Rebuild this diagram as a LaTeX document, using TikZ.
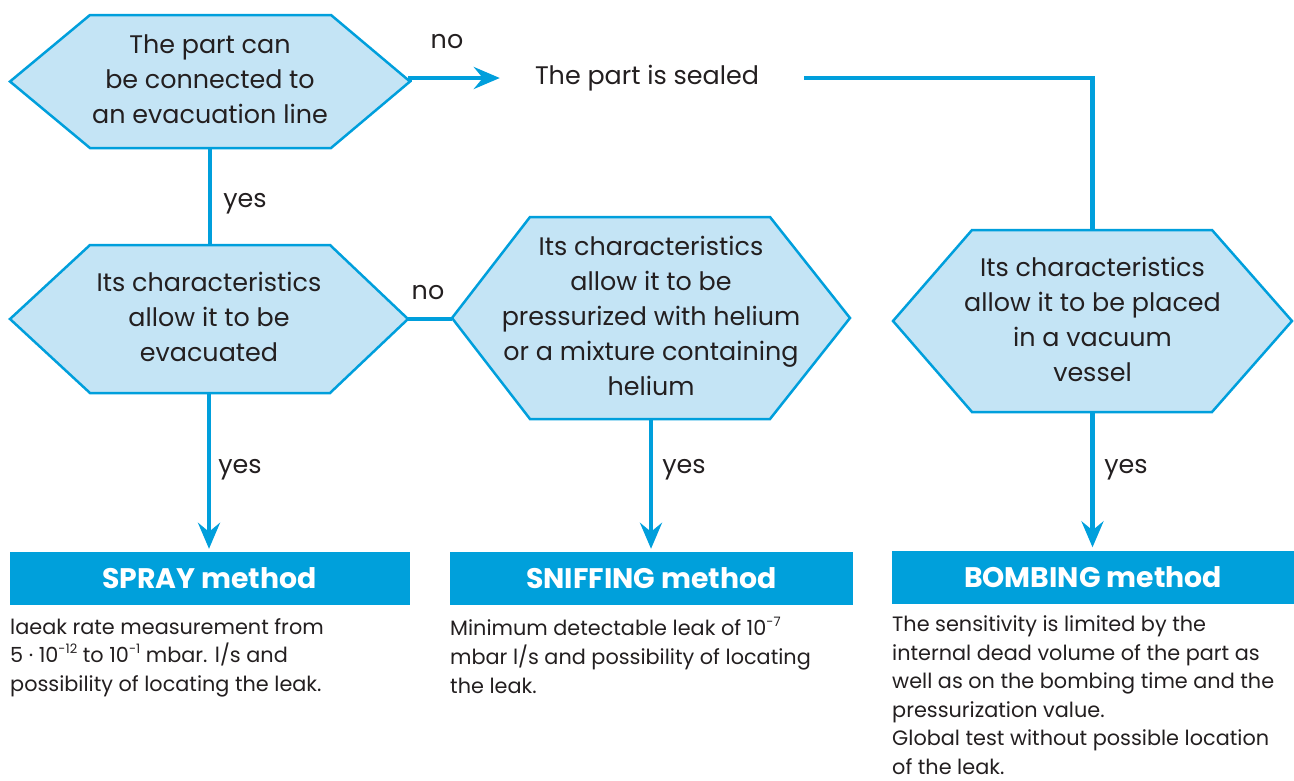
\documentclass[tikz,border=0pt]{standalone}
\usepackage{fontspec}
\setmainfont{Poppins}
\usetikzlibrary{arrows.meta}
\definecolor{hexfill}{HTML}{C4E4F5}
\definecolor{lineblue}{HTML}{009FDC}
\definecolor{boxblue}{HTML}{00A0DB}
\definecolor{txt}{HTML}{231F20}
\newcommand\supx[1]{\raisebox{0.45em}{\fontsize{13}{13}\selectfont #1}}
\newcommand\hexnode[8]{%
  \coordinate (#1-l) at (#2,{(#6+#7)/2});
  \coordinate (#1-r) at (#5,{(#6+#7)/2});
  \coordinate (#1-t) at ({(#2+#5)/2},#6);
  \coordinate (#1-b) at ({(#2+#5)/2},#7);
  \draw[hexshape] (#1-l) -- (#3,#6) -- (#4,#6) -- (#1-r) -- (#4,#7) -- (#3,#7) -- cycle;
  \node[hextext] (#1) at ({(#2+#5)/2},{(#6+#7)/2-2}) {#8};
}
\begin{document}
\begin{tikzpicture}[x=1pt,y=-1pt,
  hexshape/.style={draw=lineblue, line width=2.5pt, fill=hexfill, line join=miter},
  hextext/.style={align=center, text=txt, inner sep=0pt, font=\fontsize{25.4}{35}\selectfont},
  lbl/.style={text=txt, inner sep=0pt, font=\fontsize{25.4}{35}\selectfont},
  conn/.style={draw=lineblue, line width=4.5pt},
  arr/.style={conn, -{Stealth[length=26pt, width=22pt, inset=9pt]}},
  titlebox/.style={fill=boxblue, text=white, minimum height=53pt, inner sep=0pt,
    font=\fontsize{28.3}{30}\selectfont\bfseries},
  desc/.style={anchor=north west, align=left, text=txt, inner sep=0pt,
    font=\fontsize{20.8}{28.6}\selectfont}]
\useasboundingbox (0,0) rectangle (1294,780);

\hexnode{h1}{10}{90}{331}{410}{15}{148}{The part can\\be connected to\\an evacuation line}
\hexnode{h2}{10}{90}{330}{408}{245}{393}{Its characteristics\\allow it to be\\evacuated}
\hexnode{h3}{452}{530}{770}{850}{217}{419}{Its characteristics\\allow it to be\\pressurized with helium\\or a mixture containing\\helium}
\hexnode{h4}{893}{972}{1212}{1292}{230}{412}{Its characteristics\\allow it to be placed\\in a vacuum\\vessel}

\node[lbl] (sealed) at (647,78) {The part is sealed};

\node[titlebox, minimum width=400pt] (spray) at (209.5,578.5) {SPRAY method};
\node[titlebox, minimum width=403pt] (sniff) at (651.5,578.5) {SNIFFING method};
\node[titlebox, minimum width=402pt] (bomb) at (1093,577) {BOMBING method};

\node[desc] (d1) at (10,618) {laeak rate measurement from\\5 · 10\supx{-12} to 10\supx{-1} mbar. l/s and\\possibility of locating the leak.};
\node[desc] (d2) at (450,617) {Minimum detectable leak of 10\supx{-7}\\mbar l/s and possibility of locating\\the leak.};
\node[desc] (d3) at (892,615.5) {The sensitivity is limited by the\\internal dead volume of the part as\\well as on the bombing time and the\\pressurization value.\\Global test without possible location\\of the leak.};

% connectors
\draw[arr, shorten >=35pt] (h1-r) -- (sealed.west -| h1-r) -- (sealed.west);
\draw[conn] ([xshift=45pt]sealed.east) -| (h4-t);
\draw[conn] (h1-b) -- (h1-b |- h2-t);
\draw[conn] (h2-r) -- (h2-r -| h3-l);
\draw[arr, shorten >=3pt] (h2-b) -- (h2-b |- spray.north);
\draw[arr, shorten >=3pt] (h3-b) -- (h3-b |- sniff.north);
\draw[arr, shorten >=3pt] (h4-b) -- (h4-b |- bomb.north);

% labels
\node[lbl] (no1) at (447,42) {no};
\node[lbl] (yes1) at (245,204) {yes};
\node[lbl] (no2) at (428,293) {no};
\node[lbl] (yes2) at (240,470) {yes};
\node[lbl] (yes3) at (684,470) {yes};
\node[lbl] (yes4) at (1126,470) {yes};
\end{tikzpicture}
\end{document}
